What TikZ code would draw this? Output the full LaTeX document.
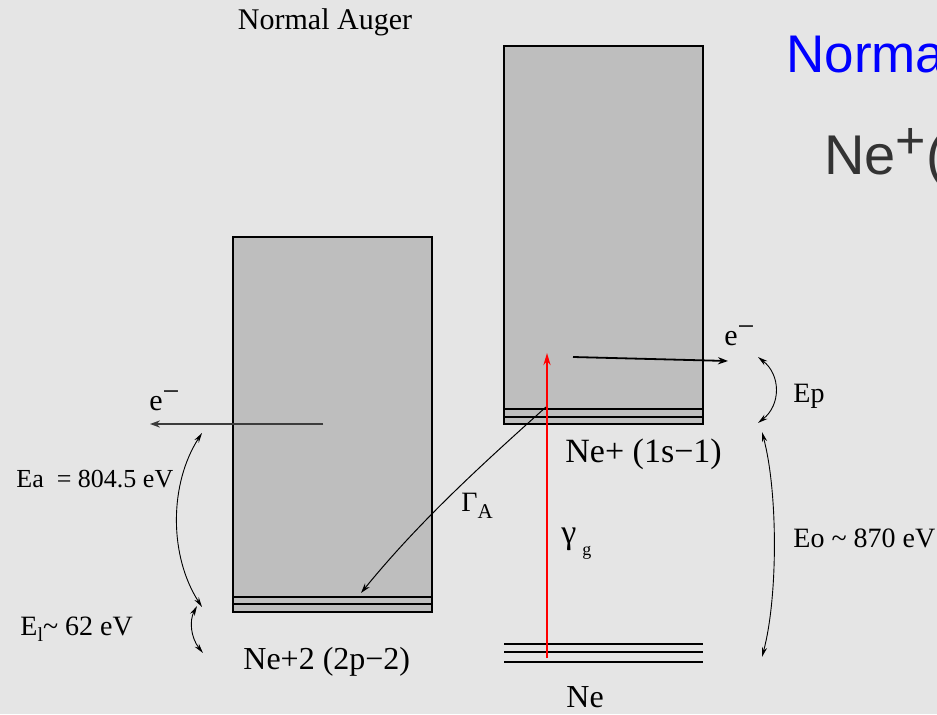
\documentclass[tikz,border=0pt]{standalone}
\usepackage{fontspec}
\setmainfont{Liberation Serif}
\newfontfamily\slidefont{Liberation Sans}
\usetikzlibrary{arrows.meta}
\definecolor{backdrop}{HTML}{E5E5E5}
\definecolor{levelfill}{HTML}{BEBEBE}
\definecolor{slideblue}{HTML}{0000FF}
\definecolor{slidetext}{HTML}{333333}
\definecolor{photonred}{HTML}{FF0000}
\definecolor{wire}{HTML}{3C3C3C}
\newcommand{\eminus}{e\raisebox{4.5pt}{−}}
\tikzset{
  level box/.style={draw=black,line width=1.2pt,fill=levelfill},
  level line/.style={draw=black,line width=1.2pt},
  ground line/.style={draw=black,line width=1pt},
  electron arrow/.style={line width=.9pt,-{Stealth[length=5pt,width=3.6pt]}},
  decay arrow/.style={line width=.5pt,-{Stealth[length=5pt,width=3pt]}},
  gap arrow/.style={line width=.45pt,{Stealth[length=5pt,width=2.6pt]}-{Stealth[length=5pt,width=2.6pt]}},
  photon arrow/.style={draw=photonred,line width=1pt,-{Stealth[length=6pt,width=3.5pt]}},
  label text/.style={inner sep=0pt,anchor=base west,font=\fontsize{14}{16}\selectfont},
  state text/.style={inner sep=0pt,anchor=base west,font=\fontsize{16}{19}\selectfont},
  electron text/.style={inner sep=0pt,anchor=base west,font=\fontsize{15}{18}\selectfont}
}

\begin{document}
\begin{tikzpicture}[x=.5pt,y=.5pt]
  \path[use as bounding box] (0,0) rectangle (937,714);
  \fill[backdrop] (0,0) rectangle (937,714);

  % Slide heading, cut off at the right edge.
  \node[anchor=base west,inner sep=0pt,font=\slidefont\fontsize{26.5}{30}\selectfont,text=slideblue]
    (heading) at (786,641) {Norma};
  \node[anchor=base west,inner sep=0pt,font=\slidefont\fontsize{28}{32}\selectfont,text=slidetext]
    (ion) at (824,539) {Ne\raisebox{8pt}{\fontsize{26}{26}\selectfont +}(};

  \node[anchor=base,inner sep=0pt,font=\fontsize{15}{18}\selectfont]
    (caption) at (325,684) {Normal Auger};

  % Ne+2 (2p-2) final state.
  \filldraw[level box] (233,102) rectangle (432,477);
  \draw[level line] (233,117) -- (432,117);
  \draw[level line] (233,110) -- (432,110);

  % Ne+ (1s-1) core hole state.
  \filldraw[level box] (504,290) rectangle (703,668);
  \draw[level line] (504,305) -- (703,305);
  \draw[level line] (504,297) -- (703,297);

  % Ne ground state.
  \foreach \y in {70,62,52}
    \draw[ground line] (504,\y) -- (703,\y);

  \coordinate (gs) at (547,56);
  \coordinate (core) at (547,361);
  \coordinate (coreHole) at (546,307);
  \coordinate (final) at (361,121);
  \coordinate (photoStart) at (573,357);
  \coordinate (photoEnd) at (728,353);
  \coordinate (augerStart) at (323,290);
  \coordinate (augerEnd) at (150,290);
  \coordinate (eaTop) at (202,281);
  \coordinate (eaBot) at (202,107);
  \coordinate (elTop) at (197,108);
  \coordinate (elBot) at (203,61);
  \coordinate (epTop) at (758,357);
  \coordinate (epBot) at (758,291);
  \coordinate (eoTop) at (762,282);
  \coordinate (eoBot) at (762,57);

  % Excitation, photo electron and Auger decay.
  \draw[photon arrow] (gs) -- (core);
  \draw[electron arrow] (photoStart) -- (photoEnd);
  \draw[electron arrow,draw=wire,fill=wire,line width=.75pt] (augerStart) -- (augerEnd);
  \draw[decay arrow] (coreHole) .. controls +(-67,-60) and +(57,70) .. (final);

  % Energy gaps.
  \draw[gap arrow] (eaTop) .. controls +(-33,-51) and +(-33,51) .. (eaBot);
  \draw[gap arrow] (elTop) .. controls +(-8,-15) and +(-12,15) .. (elBot);
  \draw[gap arrow] (epTop) .. controls +(23,-18) and +(23,18) .. (epBot);
  \draw[gap arrow] (eoTop) .. controls +(16,-60) and +(16,60) .. (eoBot);

  \node[state text,font=\fontsize{17}{20}\selectfont] (coreLabel) at (565,252) {Ne+ (1s−1)};
  \node[state text] (finalLabel) at (243,45) {Ne+2 (2p−2)};
  \node[state text] (groundLabel) at (566,7) {Ne};

  \node[label text,font=\fontsize{13}{15}\selectfont] (eaLabel) at (16,227) {Ea\ \ = 804.5 eV};
  \node[label text] (elLabel) at (20,79)
    {E\raisebox{-3pt}{\fontsize{10}{10}\selectfont l}\textasciitilde\ 62 eV};
  \node[label text] (epLabel) at (793,312) {Ep};
  \node[label text] (eoLabel) at (793,167) {Eo \textasciitilde\ 870 eV};

  \node[electron text] (eLeft) at (149,304) {\eminus};
  \node[electron text] (eRight) at (724,369) {\eminus};
  \node[electron text,font=\fontsize{14}{16}\selectfont] (gammaA) at (461,203)
    {Γ\raisebox{-3.5pt}{\fontsize{10.5}{10.5}\selectfont A}};
  \node[electron text,font=\fontsize{17}{20}\selectfont] (gammaG) at (561,171)
    {γ\hspace{3pt}\raisebox{-6pt}{\fontsize{9}{9}\selectfont g}};
\end{tikzpicture}
\end{document}
